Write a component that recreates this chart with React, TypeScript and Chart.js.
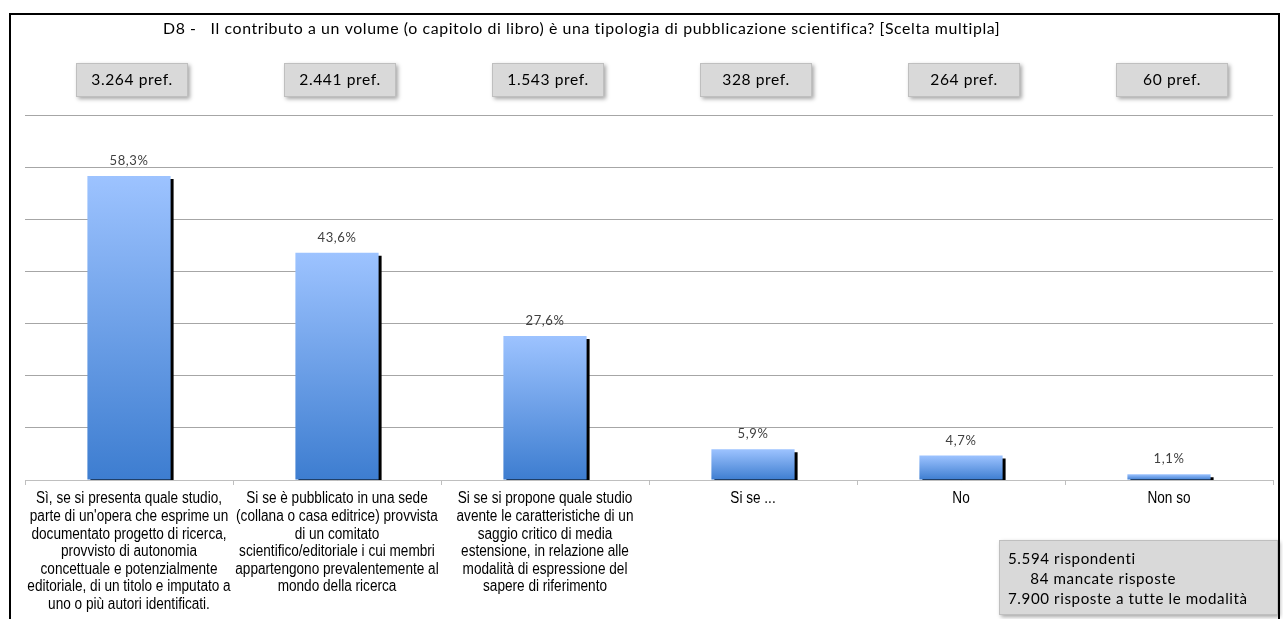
import React, { useEffect, useRef } from 'react';
import { Chart, registerables } from 'chart.js';

Chart.register(...registerables);

// ---------- data ----------
const categories: string[][] = [
  [
    'Sì, se si presenta quale studio,',
    "parte di un'opera che esprime un",
    'documentato progetto di ricerca,',
    'provvisto di autonomia',
    'concettuale e potenzialmente',
    'editoriale, di un titolo e imputato a',
    'uno o più autori identificati.',
  ],
  [
    'Si se è pubblicato in una sede',
    '(collana o casa editrice) provvista',
    'di un comitato',
    'scientifico/editoriale i cui membri',
    'appartengono prevalentemente al',
    'mondo della ricerca',
  ],
  [
    'Si se si propone quale studio',
    'avente le caratteristiche di un',
    'saggio critico di media',
    'estensione, in relazione alle',
    'modalità di espressione del',
    'sapere di riferimento',
  ],
  ['Si se ...'],
  ['No'],
  ['Non so'],
];
const percentages: number[] = [58.3, 43.6, 27.6, 5.9, 4.7, 1.1];
const valueLabels: string[] = ['58,3%', '43,6%', '27,6%', '5,9%', '4,7%', '1,1%'];
const prefLabels: string[] = ['3.264 pref.', '2.441 pref.', '1.543 pref.', '328 pref.', '264 pref.', '60 pref.'];
const titleText =
  'D8 -   Il contributo a un volume (o capitolo di libro) è una tipologia di pubblicazione scientifica? [Scelta multipla]';
const summaryLines: string[] = ['5.594 rispondenti', '     84 mancate risposte', '7.900 risposte a tutte le modalità'];
const yAxisMax = 70;
const yAxisStep = 10;

const CALIBRI = 'Lato, "Open Sans", sans-serif';
const ARIAL = '"Liberation Sans", Arial, sans-serif';
const SPACING = '0.6px';

// font size for which `text` is `target` px wide
function fitSize(ctx: any, text: string, family: string, target: number): number {
  ctx.letterSpacing = SPACING;
  ctx.font = `20px ${family}`;
  const w = ctx.measureText(text).width;
  return w > 0 ? (20 * target) / w : 14;
}

export default function App() {
  const ref = useRef<HTMLCanvasElement | null>(null);

  useEffect(() => {
    const canvas = ref.current;
    if (!canvas) return;

    const decorPlugin = {
      id: 'decor',
      beforeDraw(chart: any) {
        const ctx = chart.ctx;
        ctx.save();
        ctx.fillStyle = '#ffffff';
        ctx.fillRect(0, 0, chart.width, chart.height);
        ctx.restore();
      },
      beforeDatasetsDraw(chart: any) {
        const ctx = chart.ctx;
        ctx.save();
        ctx.shadowColor = '#000000';
        ctx.shadowOffsetX = 3;
        ctx.shadowOffsetY = 3;
        ctx.shadowBlur = 0;
      },
      afterDatasetsDraw(chart: any) {
        const ctx = chart.ctx;
        ctx.restore();
        const meta = chart.getDatasetMeta(0);
        ctx.save();
        const vs = fitSize(ctx, valueLabels[0], CALIBRI, 38);
        ctx.font = `${vs}px ${CALIBRI}`;
        ctx.fillStyle = '#404040';
        ctx.textAlign = 'center';
        ctx.textBaseline = 'middle';
        meta.data.forEach((bar: any, i: number) => {
          ctx.fillText(valueLabels[i], bar.x, bar.y - 15);
        });
        ctx.restore();
      },
      afterDraw(chart: any) {
        const ctx = chart.ctx;
        const xs = chart.scales.x;
        ctx.save();
        // frame
        ctx.strokeStyle = '#000000';
        ctx.lineWidth = 2;
        ctx.beginPath();
        ctx.moveTo(10, chart.height + 5);
        ctx.lineTo(10, 14);
        ctx.lineTo(1279, 14);
        ctx.lineTo(1279, chart.height + 5);
        ctx.stroke();

        // title
        ctx.fillStyle = '#000000';
        const ts = fitSize(ctx, titleText, CALIBRI, 823);
        ctx.font = `${ts}px ${CALIBRI}`;
        ctx.textAlign = 'left';
        ctx.textBaseline = 'middle';
        ctx.fillText(titleText, 163, 29);

        // category labels (narrow)
        ctx.letterSpacing = '0px';
        ctx.fillStyle = '#000000';
        ctx.font = `16px ${ARIAL}`;
        ctx.textAlign = 'center';
        ctx.textBaseline = 'middle';
        categories.forEach((lines, i) => {
          const cx = xs.getPixelForValue(i);
          lines.forEach((line, k) => {
            ctx.save();
            ctx.translate(cx, xs.top + 19 + k * 17.6);
            ctx.scale(0.85, 1);
            ctx.fillText(line, 0, 0);
            ctx.restore();
          });
        });

        // pref boxes
        const ps = fitSize(ctx, prefLabels[0], CALIBRI, 80);
        prefLabels.forEach((t, i) => {
          const cx = xs.getPixelForValue(i) + 3;
          const w = 112;
          const h = 34;
          const top = 63;
          ctx.save();
          ctx.shadowColor = 'rgba(0,0,0,0.35)';
          ctx.shadowBlur = 4;
          ctx.shadowOffsetX = 2;
          ctx.shadowOffsetY = 2;
          ctx.fillStyle = '#d9d9d9';
          ctx.fillRect(cx - w / 2, top, w, h);
          ctx.restore();
          ctx.strokeStyle = '#bfbfbf';
          ctx.lineWidth = 1;
          ctx.strokeRect(cx - w / 2 + 0.5, top + 0.5, w - 1, h - 1);
          ctx.fillStyle = '#000000';
          ctx.letterSpacing = SPACING;
          ctx.font = `${ps}px ${CALIBRI}`;
          ctx.textAlign = 'center';
          ctx.textBaseline = 'middle';
          ctx.fillText(t, cx, top + h / 2);
        });

        // summary box
        ctx.save();
        ctx.shadowColor = 'rgba(0,0,0,0.35)';
        ctx.shadowBlur = 4;
        ctx.shadowOffsetX = 2;
        ctx.shadowOffsetY = 2;
        ctx.fillStyle = '#d9d9d9';
        ctx.fillRect(999, 540, 279, 75);
        ctx.restore();
        ctx.strokeStyle = '#bfbfbf';
        ctx.lineWidth = 1;
        ctx.strokeRect(999.5, 540.5, 278, 74);
        ctx.fillStyle = '#000000';
        const ss = fitSize(ctx, summaryLines[2], CALIBRI, 235);
        ctx.font = `${ss}px ${CALIBRI}`;
        ctx.textAlign = 'left';
        ctx.textBaseline = 'middle';
        summaryLines.forEach((l, i) => {
          ctx.fillText(l, 1008, 559 + i * 20);
        });
        ctx.restore();
      },
    };

    const chart = new Chart(canvas, {
      type: 'bar',
      data: {
        labels: categories,
        datasets: [
          {
            data: percentages,
            barPercentage: 0.4,
            categoryPercentage: 1,
            borderWidth: 0,
            backgroundColor: (c: any) => {
              const ch = c.chart;
              const y = ch.scales && ch.scales.y;
              if (!y || c.type !== 'data') return '#5b8fd9';
              const top = y.getPixelForValue(c.raw);
              const bottom = y.getPixelForValue(0);
              if (!Number.isFinite(top) || !Number.isFinite(bottom) || top === bottom) return '#5b8fd9';
              const g = ch.ctx.createLinearGradient(0, top, 0, bottom);
              g.addColorStop(0, '#9dc3ff');
              g.addColorStop(1, '#3d7dd0');
              return g;
            },
          },
        ],
      },
      options: {
        responsive: false,
        animation: false,
        devicePixelRatio: 1,
        layout: { padding: { left: 25, right: 10, top: 115, bottom: 0 } },
        plugins: {
          legend: { display: false },
          tooltip: { enabled: false },
          title: { display: false },
        },
        scales: {
          x: {
            offset: true,
            border: { display: true, color: '#bfbfbf', width: 1 },
            grid: {
              display: true,
              drawOnChartArea: false,
              drawTicks: true,
              tickLength: 5,
              color: '#bfbfbf',
              offset: true,
            },
            ticks: { display: false, autoSkip: false, maxRotation: 0 },
            afterFit: (s: any) => {
              s.height = 139;
            },
          },
          y: {
            min: 0,
            max: yAxisMax,
            border: { display: false },
            grid: { color: '#a6a6a6', drawTicks: false, lineWidth: 1 },
            ticks: { display: false, stepSize: yAxisStep },
            afterFit: (s: any) => {
              s.width = 0;
            },
          },
        },
      },
      plugins: [decorPlugin],
    });

    return () => chart.destroy();
  }, []);

  return (
    <div style={{ position: 'absolute', left: 0, top: 0, width: 1283, height: 619, background: '#fff' }}>
      <canvas ref={ref} width={1283} height={619} style={{ display: 'block' }} />
    </div>
  );
}
